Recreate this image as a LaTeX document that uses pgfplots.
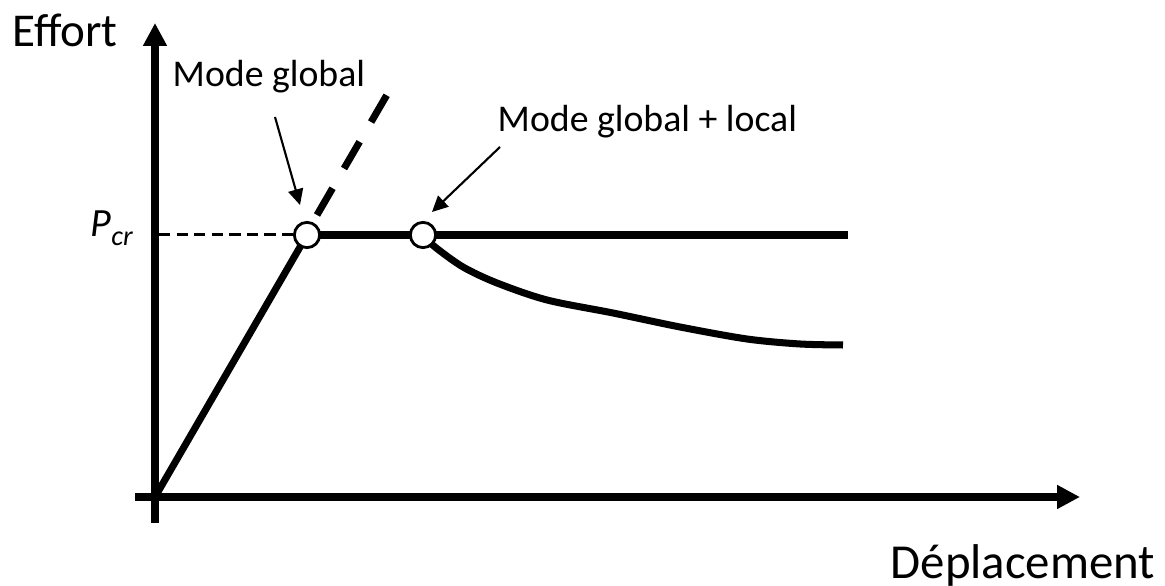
\documentclass[border=0pt]{standalone}
\usepackage{fontspec}
\setmainfont{Carlito}
\usepackage{pgfplots}
\pgfplotsset{compat=1.18}
\usetikzlibrary{arrows.meta}

\begin{document}
\begin{tikzpicture}
  \begin{axis}[
      scale only axis,
      width=11.65cm, height=5.86cm,
      xmin=-155, xmax=1010,
      ymin=-89, ymax=497,
      hide axis, clip=false,
    ]
    % corners of the page
    \coordinate (bl) at (rel axis cs:0,0);
    \coordinate (tr) at (rel axis cs:1,1);

    % axes
    \addplot[line width=2.1pt, -{Triangle[length=6.5pt,width=6.4pt]}]
      coordinates {(0,-26) (0,474)};
    \addplot[line width=2.1pt, -{Triangle[length=6.5pt,width=6.4pt]}]
      coordinates {(-20,0) (925,0)};

    % critical load level
    \addplot[line width=0.85pt, dash pattern=on 3.2pt off 1.8pt]
      coordinates {(4,262) (140,262)};

    % linear branch and its continuation
    \addplot[line width=2pt] coordinates {(0,0) (152,262)};
    \addplot[line width=2pt, dash pattern=on 8.8pt off 6.5pt]
      coordinates {(162,282) (233,404)};

    % plateau (global mode)
    \addplot[line width=2pt] coordinates {(152,262) (693,262)};

    % softening branch (global + local mode)
    \addplot[line width=2pt, smooth, tension=0.5] coordinates {
      (268,262) (280,250) (308,230) (342,214) (392,197) (458,184)
      (525,170) (592,158) (645,153) (688,152)};

    % bifurcation points
    \addplot[only marks, mark=*, mark size=3.6pt,
      mark options={draw=black, fill=white, line width=0.8pt}]
      coordinates {(152,262) (268,262)};

    % annotation arrows
    \addplot[line width=0.6pt, -{Triangle[length=4.5pt,width=4.3pt]}]
      coordinates {(120,380) (145,292)};
    \addplot[line width=0.6pt, -{Triangle[length=4.5pt,width=4.3pt]}]
      coordinates {(345,350) (277,285)};

    % labels
    \node[anchor=base west, inner sep=0pt, font=\fontsize{13.4}{16}\selectfont]
      at (axis cs:-143,450) {Effort};
    \node[anchor=base west, inner sep=0pt, font=\fontsize{13.9}{16}\selectfont]
      at (axis cs:735,-82) {Déplacement};
    \node[anchor=base west, inner sep=0pt, font=\fontsize{10.75}{13}\selectfont]
      at (axis cs:17,410) {Mode global};
    \node[anchor=base west, inner sep=0pt, font=\fontsize{10.75}{13}\selectfont]
      at (axis cs:342,365) {Mode global + local};
    \node[anchor=base west, inner sep=0pt, font=\fontsize{11.4}{13}\selectfont\itshape]
      at (axis cs:-65,260) {P\raisebox{-2.3pt}{\fontsize{8}{9}\selectfont cr}};
  \end{axis}
  \pgfresetboundingbox
  \useasboundingbox (bl) rectangle (tr);
\end{tikzpicture}
\end{document}
